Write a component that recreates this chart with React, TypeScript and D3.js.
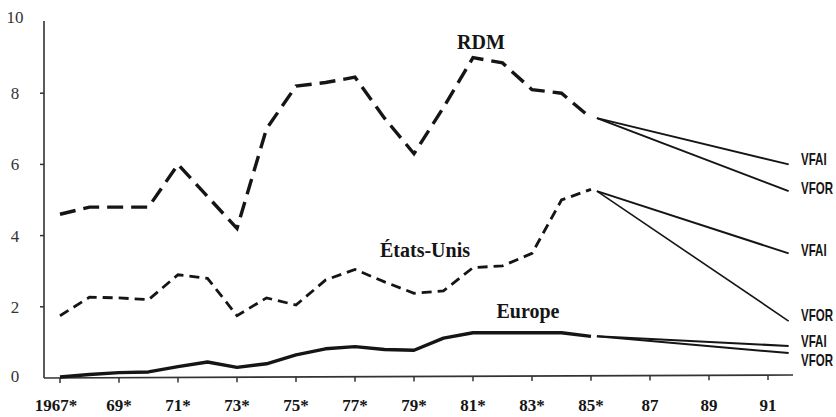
import React from "react";
import * as d3 from "d3";

const years = [1967, 1968, 1969, 1970, 1971, 1972, 1973, 1974, 1975, 1976, 1977, 1978, 1979, 1980, 1981, 1982, 1983, 1984, 1985];
const rdm = [4.6, 4.8, 4.8, 4.8, 6.0, 5.1, 4.2, 7.0, 8.2, 8.3, 8.45, 7.3, 6.3, 7.6, 9.0, 8.85, 8.1, 8.0, 7.3];
const usa = [1.75, 2.27, 2.25, 2.2, 2.9, 2.8, 1.75, 2.25, 2.05, 2.75, 3.05, 2.7, 2.38, 2.45, 3.1, 3.15, 3.5, 5.0, 5.3];
const europe = [0.03, 0.1, 0.15, 0.17, 0.32, 0.45, 0.3, 0.4, 0.65, 0.82, 0.88, 0.8, 0.78, 1.12, 1.27, 1.27, 1.27, 1.27, 1.17];

const forecastYears = [1985.2, 1991.7];
const rdmVFAI = [7.3, 6.0];
const rdmVFOR = [7.3, 5.25];
const usaVFAI = [5.25, 3.5];
const usaVFOR = [5.25, 1.6];
const europeVFAI = [1.17, 0.9];
const europeVFOR = [1.17, 0.7];

const xTicks = [1967, 1969, 1971, 1973, 1975, 1977, 1979, 1981, 1983, 1985, 1987, 1989, 1991];
const xTickLabels = ["1967*", "69*", "71*", "73*", "75*", "77*", "79*", "81*", "83*", "85*", "87", "89", "91"];
const yTicks = [0, 2, 4, 6, 8, 10];

export default function App() {
  const W = 836, H = 417;
  const x = d3.scaleLinear().domain([1967, 1991]).range([60, 768]);
  const y = d3.scaleLinear().domain([0, 10]).range([378, 22]);
  const axisX0 = 44;
  const axisXEnd = 793;
  const tilt = (px: number) => (3 * (px - axisX0)) / (axisXEnd - axisX0);

  const line = d3.line<[number, number]>().x(d => x(d[0])).y(d => y(d[1]));
  const series = (vals: number[]) => line(years.map((yr, i) => [yr, vals[i]] as [number, number])) || "";
  const fc = (vals: number[]) => line(forecastYears.map((yr, i) => [yr, vals[i]] as [number, number])) || "";

  const ink = "#151515";
  const serif = "Liberation Serif, Times New Roman, serif";
  const forecastLabels = [
    { t: "VFAI", v: rdmVFAI[1], dy: -5 },
    { t: "VFOR", v: rdmVFOR[1], dy: -3 },
    { t: "VFAI", v: usaVFAI[1], dy: -3 },
    { t: "VFOR", v: usaVFOR[1], dy: -6 },
    { t: "VFAI", v: europeVFAI[1], dy: -5 },
    { t: "VFOR", v: europeVFOR[1], dy: 7 },
  ];

  return (
    <svg width={W} height={H} style={{ position: "absolute", left: 0, top: 0, background: "#fff" }}>
      <rect x={0} y={0} width={W} height={H} fill="#fff" />
      {/* axes */}
      <line x1={axisX0} y1={y(0)} x2={axisXEnd} y2={y(0) - 3} stroke="#333" strokeWidth={1.6} />
      <line x1={axisX0} y1={y(0)} x2={axisX0} y2={y(10) - 1} stroke="#333" strokeWidth={1.6} />
      {xTicks.map((t, i) => (
        <g key={t}>
          <line x1={x(t)} x2={x(t)} y1={y(0) - tilt(x(t))} y2={y(0) + 5 - tilt(x(t))} stroke="#333" strokeWidth={1.5} />
          <text x={x(t) + (i === 0 ? -4 : 0)} y={411} textAnchor="middle" fontFamily={serif} fontWeight="bold" fontSize={17} fill={ink}>
            {xTickLabels[i]}
          </text>
        </g>
      ))}
      {yTicks.map(t => (
        <g key={t}>
          {t > 0 && t < 10 && <line x1={axisX0 - 4} x2={axisX0} y1={y(t)} y2={y(t)} stroke="#333" strokeWidth={1.5} />}
          <text x={15} y={y(t) + 6 - (t === 10 ? 5 : 0) - (t === 0 ? 2 : 0)} textAnchor="middle" fontFamily={serif} fontSize={17} fill="#333">
            {t}
          </text>
        </g>
      ))}
      {/* historical series */}
      <path d={series(rdm)} fill="none" stroke={ink} strokeWidth={3.4} strokeDasharray="16 8" />
      <path d={series(usa)} fill="none" stroke={ink} strokeWidth={2.8} strokeDasharray="10 6" />
      <path d={series(europe)} fill="none" stroke={ink} strokeWidth={3.4} strokeLinejoin="round" />
      {/* forecasts */}
      {[rdmVFAI, rdmVFOR, usaVFAI, usaVFOR, europeVFAI, europeVFOR].map((v, i) => (
        <path key={i} d={fc(v)} fill="none" stroke={ink} strokeWidth={i === 3 ? 1.6 : 2} />
      ))}
      {forecastLabels.map((l, i) => (
        <text key={i} transform={`translate(801, ${y(l.v) + l.dy + 6}) scale(0.72, 1)`} x={0} y={0} fontFamily="Liberation Sans, Arial, sans-serif" fontWeight="bold" fontSize={16} fill={ink}>
          {l.t}
        </text>
      ))}
      {/* series labels */}
      <text x={481} y={49} textAnchor="middle" fontFamily={serif} fontWeight="bold" fontSize={20} fill={ink}>RDM</text>
      <text x={425} y={257} textAnchor="middle" fontFamily={serif} fontWeight="bold" fontSize={20} fill={ink}>États-Unis</text>
      <text x={528} y={318} textAnchor="middle" fontFamily={serif} fontWeight="bold" fontSize={20} fill={ink}>Europe</text>
    </svg>
  );
}
